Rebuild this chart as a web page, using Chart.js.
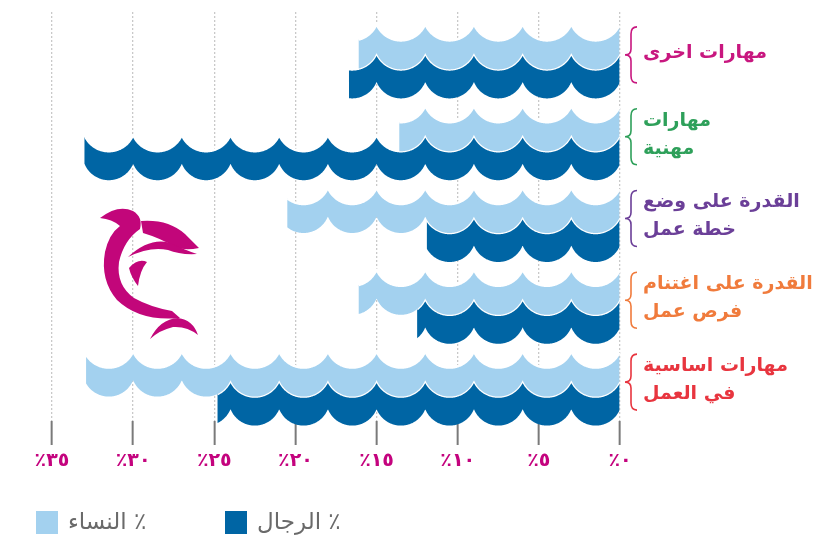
<!DOCTYPE html>
<html><head><meta charset="utf-8">
<script src="https://cdn.jsdelivr.net/npm/chart.js@4"></script>
<style>html,body{margin:0;padding:0;background:#fff}#wrap{position:relative;width:818px;height:541px}</style>
</head><body><div id="wrap"><canvas id="c"></canvas></div>
<script>
const categories = [['مهارات اخرى'], ['مهارات', 'مهنية'], ['القدرة على وضع', 'خطة عمل'], ['القدرة على اغتنام', 'فرص عمل'], ['مهارات اساسية', 'في العمل']];
const categoryColors = ['#c8177f', '#2ea05a', '#6b3f98', '#f07b3c', '#e8353f'];
const womenValues = [16.1, 13.6, 20.5, 16.1, 32.9];
const menValues = [16.7, 33.0, 11.9, 12.5, 24.8];
const seriesLabels = ['النساء ٪', 'الرجال ٪'];
const seriesColors = ['#a3d1ef', '#0065a4'];
const xTickValues = [0, 5, 10, 15, 20, 25, 30, 35];
const xTickLabels = ['٪٠', '٪٥', '٪١٠', '٪١٥', '٪٢٠', '٪٢٥', '٪٣٠', '٪٣٥'];
const WAVE_PERIOD = 3;
const FONT = "'DejaVu Sans', sans-serif";

const wavePlugin = {
  id: 'waves',
  beforeDatasetDraw(chart, args) {
    const ctx = chart.ctx, xs = chart.scales.x, meta = args.meta;
    const color = chart.data.datasets[args.index].backgroundColor;
    const p0 = xs.getPixelForValue(0), p1 = xs.getPixelForValue(WAVE_PERIOD);
    const w = Math.abs(p1 - p0) / 2, s = 16.5, r = (w * w + s * s) / (2 * s);
    const f = px => {
      const v = xs.getValueForPixel(px);
      const ph = ((v % WAVE_PERIOD) + WAVE_PERIOD) % WAVE_PERIOD;
      const dx = (ph / WAVE_PERIOD * 2 - 1) * w;
      return s - r + Math.sqrt(Math.max(0, r * r - dx * dx));
    };
    ctx.save();
    meta.data.forEach(el => {
      const left = Math.min(el.x, el.base), right = Math.max(el.x, el.base);
      const top = el.y - el.height / 2, bottom = el.y + el.height / 2;
      const topPts = [];
      for (let px = right; px > left; px -= 0.5) topPts.push([px, top + f(px)]);
      topPts.push([left, top + f(left)]);
      ctx.beginPath();
      topPts.forEach((p, i) => i ? ctx.lineTo(p[0], p[1]) : ctx.moveTo(p[0], p[1]));
      for (let px = left; px < right; px += 0.5) ctx.lineTo(px, bottom + f(px));
      ctx.lineTo(right, bottom + f(right));
      ctx.closePath();
      ctx.fillStyle = color;
      ctx.fill();
      ctx.beginPath();
      topPts.forEach((p, i) => i ? ctx.lineTo(p[0], p[1]) : ctx.moveTo(p[0], p[1]));
      ctx.strokeStyle = '#ffffff';
      ctx.lineWidth = 2.5;
      ctx.stroke();
    });
    ctx.restore();
    return false;
  }
};

const decorPlugin = {
  id: 'decor',
  afterDraw(chart) {
    const ctx = chart.ctx, ys = chart.scales.y, ca = chart.chartArea;
    ctx.save();
    categories.forEach((c, i) => {
      const yc = ys.getPixelForValue(i) + 2, h = 28;
      const xl = ca.right + 5, xm = ca.right + 11, xr = ca.right + 17;
      ctx.beginPath();
      ctx.moveTo(xr, yc - h);
      ctx.quadraticCurveTo(xm, yc - h, xm, yc - h + 7);
      ctx.lineTo(xm, yc - 6);
      ctx.quadraticCurveTo(xm, yc, xl, yc);
      ctx.quadraticCurveTo(xm, yc, xm, yc + 6);
      ctx.lineTo(xm, yc + h - 7);
      ctx.quadraticCurveTo(xm, yc + h, xr, yc + h);
      ctx.strokeStyle = categoryColors[i];
      ctx.lineWidth = 1.6;
      ctx.stroke();
    });
    const itemX = [36, 225];
    ctx.font = '23px ' + FONT;
    ctx.textBaseline = 'middle';
    ctx.textAlign = 'left';
    chart.data.datasets.forEach((ds, i) => {
      ctx.fillStyle = ds.backgroundColor;
      ctx.fillRect(itemX[i], 511, 22, 23);
      ctx.fillStyle = '#6a6a6a';
      ctx.fillText(ds.label, itemX[i] + 32, 523);
    });
    ctx.restore();
  },
  beforeDatasetsDraw(chart) {
    const ctx = chart.ctx;
    ctx.save();
    ctx.fillStyle = '#c2067a';
    ctx.beginPath();
    ctx.moveTo(100, 218);
    ctx.quadraticCurveTo(118, 204, 133, 211);
    ctx.quadraticCurveTo(143, 217, 140, 229);
    ctx.quadraticCurveTo(124, 240, 119, 262);
    ctx.quadraticCurveTo(116, 285, 134, 298);
    ctx.quadraticCurveTo(150, 307, 172, 311);
    ctx.lineTo(180, 318);
    ctx.quadraticCurveTo(140, 322, 117, 300);
    ctx.quadraticCurveTo(100, 280, 105, 252);
    ctx.quadraticCurveTo(109, 234, 120, 226);
    ctx.quadraticCurveTo(112, 219, 100, 218);
    ctx.closePath();
    ctx.fill();
    ctx.beginPath();
    ctx.moveTo(141, 221);
    ctx.quadraticCurveTo(168, 219, 185, 234);
    ctx.lineTo(199, 248);
    ctx.quadraticCurveTo(185, 251, 175, 247);
    ctx.quadraticCurveTo(160, 238, 143, 233);
    ctx.closePath();
    ctx.fill();
    ctx.beginPath();
    ctx.moveTo(128, 257);
    ctx.quadraticCurveTo(150, 237, 170, 243);
    ctx.quadraticCurveTo(185, 250, 197, 254);
    ctx.quadraticCurveTo(180, 255, 168, 250);
    ctx.quadraticCurveTo(150, 246, 128, 257);
    ctx.closePath();
    ctx.fill();
    ctx.beginPath();
    ctx.moveTo(129, 268);
    ctx.quadraticCurveTo(138, 258, 147, 262);
    ctx.quadraticCurveTo(140, 270, 138, 286);
    ctx.quadraticCurveTo(131, 277, 129, 268);
    ctx.closePath();
    ctx.fill();
    ctx.beginPath();
    ctx.moveTo(150, 339);
    ctx.quadraticCurveTo(160, 319, 178, 318);
    ctx.quadraticCurveTo(193, 320, 198, 335);
    ctx.quadraticCurveTo(187, 326, 173, 327);
    ctx.quadraticCurveTo(160, 330, 150, 339);
    ctx.closePath();
    ctx.fill();
    ctx.restore();
  }
};

new Chart(document.getElementById('c'), {
  type: 'bar',
  data: {
    labels: categories,
    datasets: [
      { label: seriesLabels[0], data: womenValues, backgroundColor: seriesColors[0], barThickness: 29 },
      { label: seriesLabels[1], data: menValues, backgroundColor: seriesColors[1], barThickness: 29 }
    ]
  },
  options: {
    indexAxis: 'y',
    responsive: true,
    maintainAspectRatio: false,
    animation: false,
    layout: { padding: { left: 52, top: 12, right: 0, bottom: 0 } },
    plugins: { legend: { display: false }, tooltip: { enabled: false } },
    scales: {
      x: {
        type: 'linear', reverse: true, min: 0, max: 35,
        afterFit: s => { s.height = 120; },
        border: { display: false, dash: [2, 2] },
        grid: { color: '#c9c9c9', lineWidth: 1.3, tickLength: 24, tickColor: '#7a7a7a', tickWidth: 2, tickBorderDash: [] },
        ticks: {
          stepSize: 5, padding: 5, color: '#c4037e',
          font: { family: FONT, size: 19, weight: 'bold' },
          callback: v => xTickLabels[xTickValues.indexOf(v)]
        }
      },
      y: {
        position: 'right',
        afterFit: s => { s.width = 198; s.paddingTop = 0; s.paddingBottom = 0; },
        border: { display: false },
        grid: { display: false, drawTicks: false },
        ticks: {
          crossAlign: 'near', padding: 23,
          color: ctx => categoryColors[ctx.index],
          font: { family: FONT, size: 19, weight: 'bold', lineHeight: 1.47 }
        }
      }
    }
  },
  plugins: [wavePlugin, decorPlugin]
});
</script></body></html>
